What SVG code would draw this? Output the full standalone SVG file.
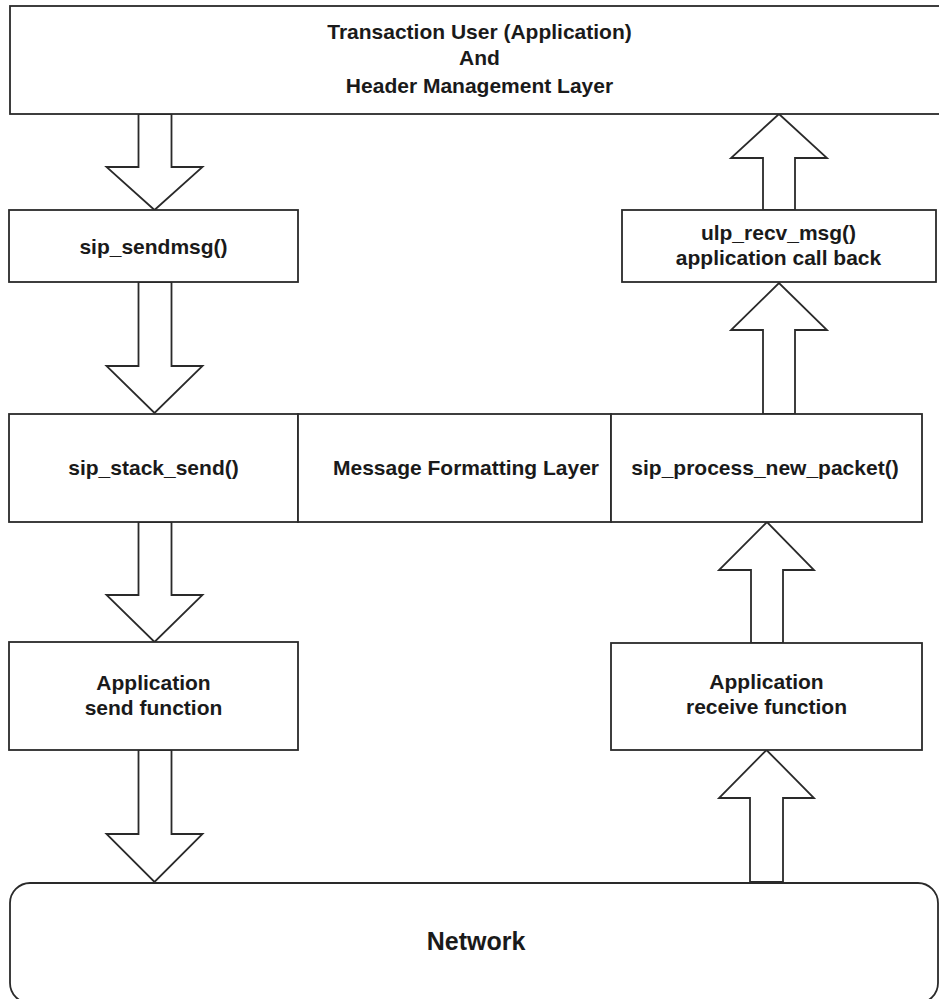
<svg xmlns="http://www.w3.org/2000/svg" width="939" height="999" viewBox="0 0 939 999">
<style>
.box{fill:#fff;stroke:#2a2a2a;stroke-width:1.8}
.arr{fill:#fff;stroke:#2a2a2a;stroke-width:1.8;stroke-linejoin:miter}
.t{font-family:"Liberation Sans",Arial,sans-serif;font-weight:bold;font-size:21px;fill:#1a1a1a;text-anchor:middle}
.n{font-size:25px}
</style>
<rect width="939" height="999" fill="#fff"/>
<g id="connectors">
<polygon class="arr" points="138.5,114 171.5,114 171.5,167 202.5,167 154.5,210 106.5,167 138.5,167"/>
<polygon class="arr" points="138.5,282 171.5,282 171.5,366 202.5,366 154.5,413 106.5,366 138.5,366"/>
<polygon class="arr" points="138.5,522 171.5,522 171.5,595 202.5,595 154.5,642 106.5,595 138.5,595"/>
<polygon class="arr" points="138.5,750 171.5,750 171.5,834 202.5,834 154.5,882 106.5,834 138.5,834"/>
<polygon class="arr" points="763,210 795,210 795,158 827,158 779,114 731,158 763,158"/>
<polygon class="arr" points="763,414 795,414 795,330 827,330 779,283 731,330 763,330"/>
<polygon class="arr" points="751,643 783,643 783,570 814,570 767,522 719,570 751,570"/>
<polygon class="arr" points="750,882 783,882 783,798 814,798 766.5,750 719,798 750,798"/>
</g>
<g id="tu">
<rect class="box" x="10" y="6" width="945" height="108"/>
<text class="t" x="479.5" y="39">Transaction User (Application)</text>
<text class="t" x="479.5" y="65">And</text>
<text class="t" x="479.5" y="93">Header Management Layer</text>
</g>
<g id="sendmsg">
<rect class="box" x="9" y="210" width="289" height="72"/>
<text class="t" x="153.5" y="254">sip_sendmsg()</text>
</g>
<g id="ulp">
<rect class="box" x="622" y="210" width="314" height="72"/>
<text class="t" x="778.5" y="240">ulp_recv_msg()</text>
<text class="t" x="778.5" y="265">application call back</text>
</g>
<g id="stacksend">
<rect class="box" x="9" y="414" width="289" height="108"/>
<text class="t" x="153.5" y="475">sip_stack_send()</text>
</g>
<g id="mfl">
<rect class="box" x="298" y="414" width="313" height="108"/>
<text class="t" x="466" y="475">Message Formatting Layer</text>
</g>
<g id="process">
<rect class="box" x="611" y="414" width="311" height="108"/>
<text class="t" x="765" y="475">sip_process_new_packet()</text>
</g>
<g id="appsend">
<rect class="box" x="9" y="642" width="289" height="108"/>
<text class="t" x="153.5" y="690">Application</text>
<text class="t" x="153.5" y="715">send function</text>
</g>
<g id="apprecv">
<rect class="box" x="611" y="643" width="311" height="107"/>
<text class="t" x="766.5" y="689">Application</text>
<text class="t" x="766.5" y="714">receive function</text>
</g>
<g id="network">
<rect class="box" x="10" y="883" width="928" height="120" rx="20" ry="20"/>
<text class="t n" x="476" y="950">Network</text>
</g>
</svg>
